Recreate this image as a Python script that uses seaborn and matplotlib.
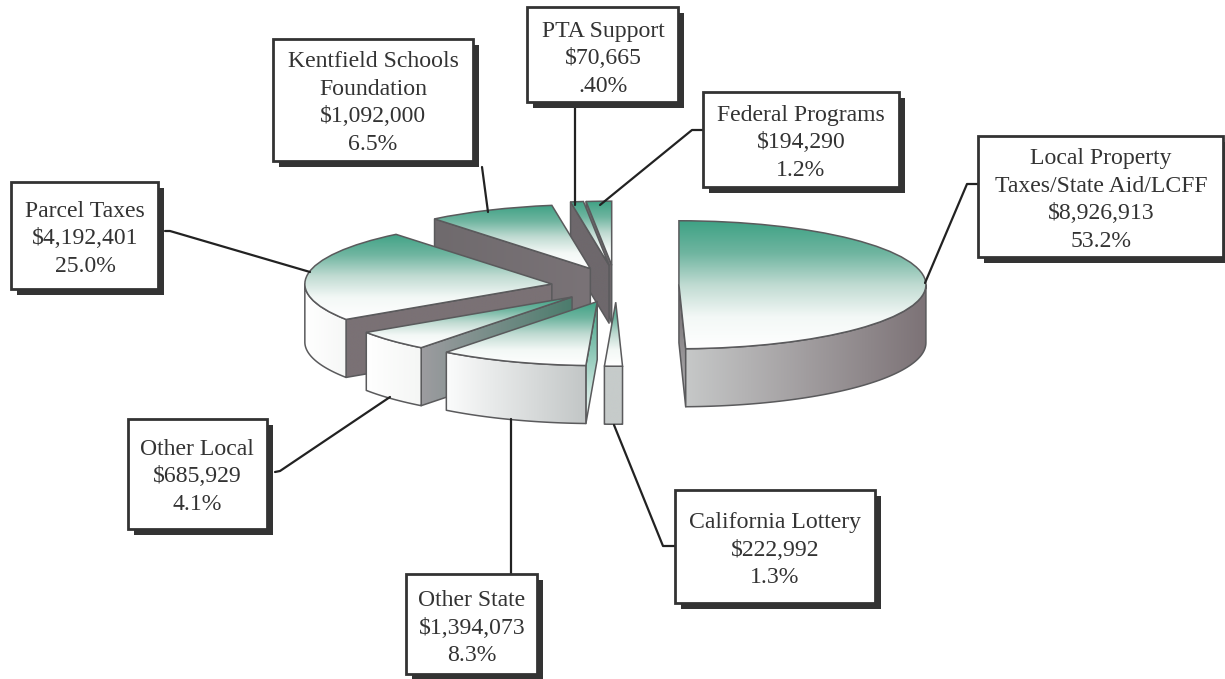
"""Kentfield revenue sources - exploded 3D style pie with callout boxes."""

import numpy as np
import matplotlib.pyplot as plt
import seaborn as sns
from matplotlib.patches import PathPatch, Rectangle
from matplotlib.path import Path

# ── Data ──────────────────────────────────────────────────────────────────────

names = ["Local Property\nTaxes/State Aid/LCFF", "California Lottery", "Other State",
         "Other Local", "Parcel Taxes", "Kentfield Schools\nFoundation", "PTA Support",
         "Federal Programs"]
amounts = [8926913, 222992, 1394073, 685929, 4192401, 1092000, 70665, 194290]
amount_labels = ["$8,926,913", "$222,992", "$1,394,073", "$685,929", "$4,192,401",
                 "$1,092,000", "$70,665", "$194,290"]
share_labels = ["53.2%", "1.3%", "8.3%", "4.1%", "25.0%", "6.5%", ".40%", "1.2%"]

# ── Layout / style ────────────────────────────────────────────────────────────

W, H = 1225, 679
CX, CY = 611, 285       # pie centre in pixels
RX, RY = 247, 64        # ellipse radii in pixels
DEPTH = 58 / RY         # extrusion in data units

explode = [0.275, 0.27, 0.265, 0.245, 0.24, 0.27, 0.31, 0.31]
explode_turn = [0, 4.6, 8, 7, 5, -6, -6, -3.5]     # degrees off the wedge's mid-angle

# the tilted view squeezes angles; clockwise-from-top true -> drawn
warp_true = [0, 191.5, 196.2, 226.1, 241, 331, 354.3, 355.8, 360]
warp_view = [0, 178.4, 182.5, 217.5, 236.5, 321, 351, 354, 360]

top_colors = ["#3fa285", "#6fb5a0", "#c0dbd2", "#f3f8f6", "#ffffff"]
wall_style = [  # radial wall: colours, horizontal?
    (("#6e686b", "#b5b5b7"), False),
    (("#c6cbca", "#c6cbca"), False),
    (("#3fa285", "#ffffff"), False),
    (("#9d9ca0", "#4c7c6d"), True),
    (("#7a7175", "#7a7175"), True),
    (("#6f6a6d", "#7a7377"), True),
    (("#6e686c", "#6e686c"), True),
    (("#6e686c", "#6e686c"), True),
]
outer_style = [("#c6c8c8", "#7c7276"), ("#c6cbca", "#c6cbca"), ("#fbfcfc", "#c2c6c6"),
               ("#ffffff", "#f5f6f5"), ("#ffffff", "#f6f7f6"), ("#ffffff", "#ffffff"),
               ("#ffffff", "#ffffff"), ("#ffffff", "#ffffff")]
EDGE = "#5a5a5c"
INK = "#333333"

# callouts: box (x0, y0, x1, y1), text centre, leader polyline in pixels
boxes = [(978, 136, 1223, 257), (675, 490, 875, 603), (406, 574, 537, 674), (128, 419, 267, 529),
         (11, 182, 158, 289), (273, 39, 473, 161), (527, 7, 678, 102), (703, 92, 899, 187)]
text_xy = [(1101, 200), (775, 550), (472, 628), (197, 477),
           (85, 239), (373, 103), (603, 59), (801, 143)]
leaders = [[(978, 184), (967, 184), (925, 283)],
           [(675, 546), (663, 546), (614, 425)],
           [(511, 574), (511, 419)],
           [(275, 472), (280, 471), (390, 397)],
           [(165, 231), (170, 231), (310, 272)],
           [(482, 167), (488, 212)],
           [(575, 108), (575, 205)],
           [(703, 130), (692, 130), (600, 205)]]
SHADOW = 6

# ── Figure ────────────────────────────────────────────────────────────────────

sns.set_theme(style="white")
plt.rcParams["font.family"] = ["Liberation Serif", "DejaVu Serif"]

fig = plt.figure(figsize=(W / 100, H / 100), dpi=100, facecolor="white")
ax = fig.add_axes([0, 0, 1, 1])

wedges, _ = ax.pie(amounts, startangle=90, counterclock=False, radius=1,
                   wedgeprops=dict(facecolor="none", edgecolor=EDGE, linewidth=1.1))


def warp(theta):
    return 90 - np.interp(90 - theta, warp_true, warp_view)


def grad_fill(clip, bbox, colors, horizontal, z):
    cmap = sns.blend_palette(list(colors), as_cmap=True)
    ramp = np.linspace(0, 1, 256)
    arr = ramp[None, :] if horizontal else ramp[:, None]
    im = ax.imshow(arr, cmap=cmap, vmin=0, vmax=1, aspect="auto", zorder=z, interpolation="bilinear",
                   extent=[bbox.x0, bbox.x1, bbox.y0, bbox.y1], origin="upper")
    im.set_clip_path(clip)


def poly_face(verts, colors, horizontal, z):
    path = Path(np.vstack([verts, verts[:1]]), closed=True)
    patch = PathPatch(path, facecolor="none", edgecolor=EDGE, linewidth=1.1, zorder=z + 0.5,
                      joinstyle="round")
    ax.add_patch(patch)
    grad_fill(patch, path.get_extents(), colors, horizontal, z)


# back to front
z = 10
for i in range(len(wedges) - 1, -1, -1):
    w = wedges[i]
    t_lo, t_hi = warp(w.theta1), warp(w.theta2)
    mid = np.radians((t_lo + t_hi) / 2 + explode_turn[i])
    cx, cy = explode[i] * np.cos(mid), explode[i] * np.sin(mid)
    w.set_theta1(t_lo)
    w.set_theta2(t_hi)
    w.set_center((cx, cy))

    # radial walls, only those facing the viewer
    colors, horizontal = wall_style[i]
    cos_lo, cos_hi = np.cos(np.radians(t_lo)), np.cos(np.radians(t_hi))
    for t, facing in ((t_hi, cos_hi < -1e-6), (t_lo, cos_lo > 1e-6)):
        if not facing:
            continue
        a = np.radians(t)
        px, py = cx + np.cos(a), cy + np.sin(a)
        verts = np.array([[cx, cy], [px, py], [px, py - DEPTH], [cx, cy - DEPTH]])
        poly_face(verts, colors, horizontal, z)
        z += 1

    # outer wall, front half of the arc only
    arc_lo, arc_hi = max(t_lo, -180), min(t_hi, 0)
    if arc_hi > arc_lo:
        aa = np.radians(np.linspace(arc_lo, arc_hi, 80))
        upper = np.column_stack([cx + np.cos(aa), cy + np.sin(aa)])
        lower = upper[::-1] - [0, DEPTH]
        poly_face(np.vstack([upper, lower]), outer_style[i], True, z)
        z += 1

    # top face
    w.set_zorder(z + 0.5)
    grad_fill(w, w.get_path().get_extents(), top_colors, False, z)
    z += 1

ax.set_xlim(-CX / RX, (W - CX) / RX)
ax.set_ylim((CY - H) / RY, CY / RY)
ax.set_aspect("auto")
ax.axis("off")

# ── Callouts, drawn in pixels on a transparent overlay ────────────────────────

lab = fig.add_axes([0, 0, 1, 1], facecolor="none")
lab.set_xlim(0, W)
lab.set_ylim(H, 0)
lab.axis("off")

for i in range(len(names)):
    x0, y0, x1, y1 = boxes[i]
    lab.plot(*zip(*leaders[i]), color="#222222", lw=1.6, solid_joinstyle="round", zorder=1)
    lab.add_patch(Rectangle((x0 + SHADOW, y0 + SHADOW), x1 - x0, y1 - y0, fc="#333333", ec="none", zorder=2))
    lab.add_patch(Rectangle((x0, y0), x1 - x0, y1 - y0, fc="white", ec="#333333", lw=2, zorder=3))
    lab.text(text_xy[i][0], text_xy[i][1], f"{names[i]}\n{amount_labels[i]}\n{share_labels[i]}",
             ha="center", va="center", multialignment="center", fontsize=17.1, color=INK,
             linespacing=1.43, zorder=4)

plt.savefig("out.png", dpi=100)
